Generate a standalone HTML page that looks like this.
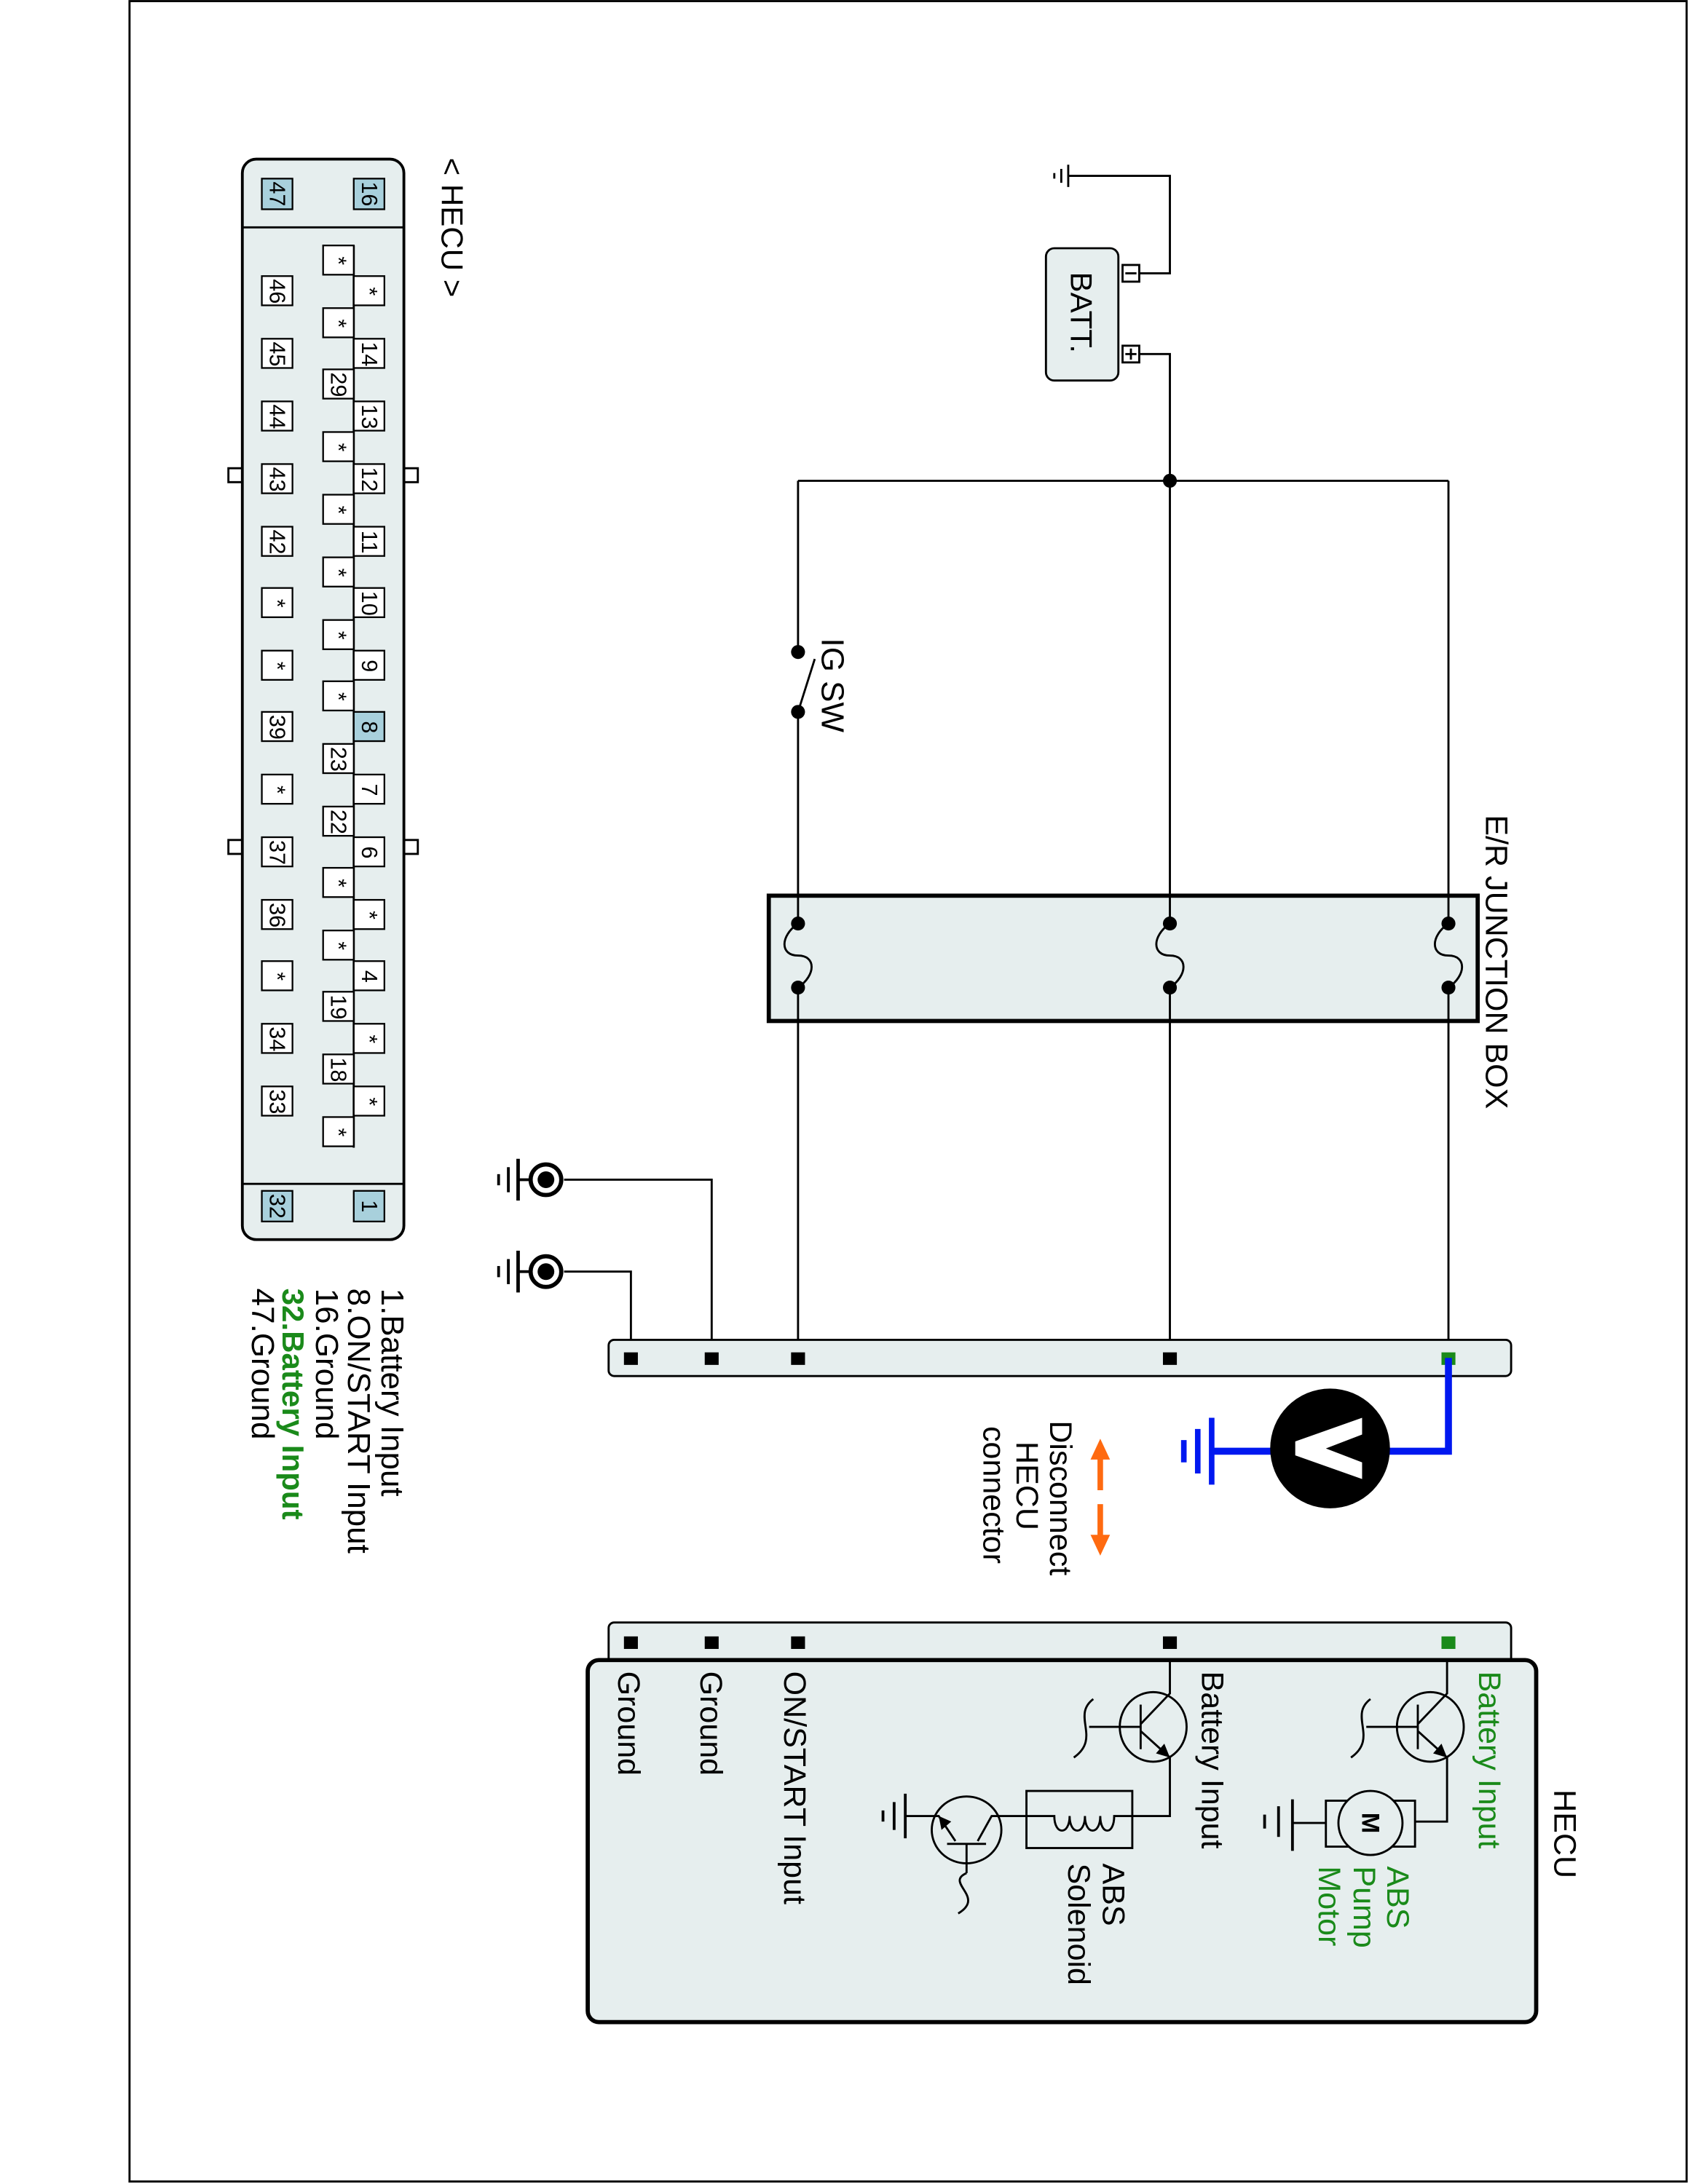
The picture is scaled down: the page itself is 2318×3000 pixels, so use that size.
<!DOCTYPE html>
<html><head><meta charset="utf-8"><style>
html,body{margin:0;padding:0;background:#fff}
svg{display:block}
text{font-family:"Liberation Sans",Arial,sans-serif}
</style></head><body>
<svg width="2318" height="3000" viewBox="0 0 1212 1568" xmlns="http://www.w3.org/2000/svg">
<rect x="93" y="0.5" width="1118" height="1566" fill="#fff" stroke="#000" stroke-width="1.5"/>

<g stroke="#000" stroke-width="1.5">
<rect x="164" y="336" width="10" height="10" fill="#fff"/>
<rect x="290" y="336" width="10" height="10" fill="#fff"/>
<rect x="164" y="603" width="10" height="10" fill="#fff"/>
<rect x="290" y="603" width="10" height="10" fill="#fff"/>
<rect x="174" y="114" width="116" height="776" rx="10" fill="#e6eeee" stroke-width="2"/>
<line x1="174" y1="163" x2="290" y2="163"/>
<line x1="174" y1="850" x2="290" y2="850"/>
<line x1="254" y1="176" x2="254" y2="824"/>
</g>
<g stroke="#000" stroke-width="1.2" font-size="16">
<rect x="188" y="128" width="22" height="22" fill="#a8d0dc"/><text transform="translate(199,139) rotate(90)" text-anchor="middle" dominant-baseline="central" stroke="none">47</text>
<rect x="254" y="128" width="22" height="22" fill="#a8d0dc"/><text transform="translate(265,139) rotate(90)" text-anchor="middle" dominant-baseline="central" stroke="none">16</text>
<rect x="188" y="855" width="22" height="22" fill="#a8d0dc"/><text transform="translate(199,866) rotate(90)" text-anchor="middle" dominant-baseline="central" stroke="none">32</text>
<rect x="254" y="855" width="22" height="22" fill="#a8d0dc"/><text transform="translate(265,866) rotate(90)" text-anchor="middle" dominant-baseline="central" stroke="none">1</text>

<rect x="254" y="198" width="22" height="21" fill="#fff"/><text transform="translate(265,209) rotate(90)" text-anchor="middle" dominant-baseline="central" stroke="none">*</text>
<rect x="254" y="243" width="22" height="21" fill="#fff"/><text transform="translate(265,254) rotate(90)" text-anchor="middle" dominant-baseline="central" stroke="none">14</text>
<rect x="254" y="288" width="22" height="21" fill="#fff"/><text transform="translate(265,299) rotate(90)" text-anchor="middle" dominant-baseline="central" stroke="none">13</text>
<rect x="254" y="333" width="22" height="21" fill="#fff"/><text transform="translate(265,344) rotate(90)" text-anchor="middle" dominant-baseline="central" stroke="none">12</text>
<rect x="254" y="378" width="22" height="21" fill="#fff"/><text transform="translate(265,389) rotate(90)" text-anchor="middle" dominant-baseline="central" stroke="none">11</text>
<rect x="254" y="422" width="22" height="21" fill="#fff"/><text transform="translate(265,433) rotate(90)" text-anchor="middle" dominant-baseline="central" stroke="none">10</text>
<rect x="254" y="467" width="22" height="21" fill="#fff"/><text transform="translate(265,478) rotate(90)" text-anchor="middle" dominant-baseline="central" stroke="none">9</text>
<rect x="254" y="511" width="22" height="21" fill="#a8d0dc"/><text transform="translate(265,522) rotate(90)" text-anchor="middle" dominant-baseline="central" stroke="none">8</text>
<rect x="254" y="556" width="22" height="21" fill="#fff"/><text transform="translate(265,567) rotate(90)" text-anchor="middle" dominant-baseline="central" stroke="none">7</text>
<rect x="254" y="601" width="22" height="21" fill="#fff"/><text transform="translate(265,612) rotate(90)" text-anchor="middle" dominant-baseline="central" stroke="none">6</text>
<rect x="254" y="646" width="22" height="21" fill="#fff"/><text transform="translate(265,657) rotate(90)" text-anchor="middle" dominant-baseline="central" stroke="none">*</text>
<rect x="254" y="690" width="22" height="21" fill="#fff"/><text transform="translate(265,701) rotate(90)" text-anchor="middle" dominant-baseline="central" stroke="none">4</text>
<rect x="254" y="735" width="22" height="21" fill="#fff"/><text transform="translate(265,746) rotate(90)" text-anchor="middle" dominant-baseline="central" stroke="none">*</text>
<rect x="254" y="780" width="22" height="21" fill="#fff"/><text transform="translate(265,791) rotate(90)" text-anchor="middle" dominant-baseline="central" stroke="none">*</text>

<rect x="232" y="176" width="22" height="21" fill="#fff"/><text transform="translate(243,187) rotate(90)" text-anchor="middle" dominant-baseline="central" stroke="none">*</text>
<rect x="232" y="221" width="22" height="21" fill="#fff"/><text transform="translate(243,232) rotate(90)" text-anchor="middle" dominant-baseline="central" stroke="none">*</text>
<rect x="232" y="265" width="22" height="21" fill="#fff"/><text transform="translate(243,276) rotate(90)" text-anchor="middle" dominant-baseline="central" stroke="none">29</text>
<rect x="232" y="310" width="22" height="21" fill="#fff"/><text transform="translate(243,321) rotate(90)" text-anchor="middle" dominant-baseline="central" stroke="none">*</text>
<rect x="232" y="355" width="22" height="21" fill="#fff"/><text transform="translate(243,366) rotate(90)" text-anchor="middle" dominant-baseline="central" stroke="none">*</text>
<rect x="232" y="400" width="22" height="21" fill="#fff"/><text transform="translate(243,411) rotate(90)" text-anchor="middle" dominant-baseline="central" stroke="none">*</text>
<rect x="232" y="445" width="22" height="21" fill="#fff"/><text transform="translate(243,456) rotate(90)" text-anchor="middle" dominant-baseline="central" stroke="none">*</text>
<rect x="232" y="489" width="22" height="21" fill="#fff"/><text transform="translate(243,500) rotate(90)" text-anchor="middle" dominant-baseline="central" stroke="none">*</text>
<rect x="232" y="534" width="22" height="21" fill="#fff"/><text transform="translate(243,545) rotate(90)" text-anchor="middle" dominant-baseline="central" stroke="none">23</text>
<rect x="232" y="579" width="22" height="21" fill="#fff"/><text transform="translate(243,590) rotate(90)" text-anchor="middle" dominant-baseline="central" stroke="none">22</text>
<rect x="232" y="623" width="22" height="21" fill="#fff"/><text transform="translate(243,634) rotate(90)" text-anchor="middle" dominant-baseline="central" stroke="none">*</text>
<rect x="232" y="668" width="22" height="21" fill="#fff"/><text transform="translate(243,679) rotate(90)" text-anchor="middle" dominant-baseline="central" stroke="none">*</text>
<rect x="232" y="712" width="22" height="21" fill="#fff"/><text transform="translate(243,723) rotate(90)" text-anchor="middle" dominant-baseline="central" stroke="none">19</text>
<rect x="232" y="757" width="22" height="21" fill="#fff"/><text transform="translate(243,768) rotate(90)" text-anchor="middle" dominant-baseline="central" stroke="none">18</text>
<rect x="232" y="802" width="22" height="21" fill="#fff"/><text transform="translate(243,813) rotate(90)" text-anchor="middle" dominant-baseline="central" stroke="none">*</text>

<rect x="188" y="198" width="22" height="21" fill="#fff"/><text transform="translate(199,209) rotate(90)" text-anchor="middle" dominant-baseline="central" stroke="none">46</text>
<rect x="188" y="243" width="22" height="21" fill="#fff"/><text transform="translate(199,254) rotate(90)" text-anchor="middle" dominant-baseline="central" stroke="none">45</text>
<rect x="188" y="288" width="22" height="21" fill="#fff"/><text transform="translate(199,299) rotate(90)" text-anchor="middle" dominant-baseline="central" stroke="none">44</text>
<rect x="188" y="333" width="22" height="21" fill="#fff"/><text transform="translate(199,344) rotate(90)" text-anchor="middle" dominant-baseline="central" stroke="none">43</text>
<rect x="188" y="378" width="22" height="21" fill="#fff"/><text transform="translate(199,389) rotate(90)" text-anchor="middle" dominant-baseline="central" stroke="none">42</text>
<rect x="188" y="422" width="22" height="21" fill="#fff"/><text transform="translate(199,433) rotate(90)" text-anchor="middle" dominant-baseline="central" stroke="none">*</text>
<rect x="188" y="467" width="22" height="21" fill="#fff"/><text transform="translate(199,478) rotate(90)" text-anchor="middle" dominant-baseline="central" stroke="none">*</text>
<rect x="188" y="511" width="22" height="21" fill="#fff"/><text transform="translate(199,522) rotate(90)" text-anchor="middle" dominant-baseline="central" stroke="none">39</text>
<rect x="188" y="556" width="22" height="21" fill="#fff"/><text transform="translate(199,567) rotate(90)" text-anchor="middle" dominant-baseline="central" stroke="none">*</text>
<rect x="188" y="601" width="22" height="21" fill="#fff"/><text transform="translate(199,612) rotate(90)" text-anchor="middle" dominant-baseline="central" stroke="none">37</text>
<rect x="188" y="646" width="22" height="21" fill="#fff"/><text transform="translate(199,657) rotate(90)" text-anchor="middle" dominant-baseline="central" stroke="none">36</text>
<rect x="188" y="690" width="22" height="21" fill="#fff"/><text transform="translate(199,701) rotate(90)" text-anchor="middle" dominant-baseline="central" stroke="none">*</text>
<rect x="188" y="735" width="22" height="21" fill="#fff"/><text transform="translate(199,746) rotate(90)" text-anchor="middle" dominant-baseline="central" stroke="none">34</text>
<rect x="188" y="780" width="22" height="21" fill="#fff"/><text transform="translate(199,791) rotate(90)" text-anchor="middle" dominant-baseline="central" stroke="none">33</text>
</g>

<text transform="translate(317,113) rotate(90)" font-size="22">&lt; HECU &gt;</text>

<g font-size="23">
<text transform="translate(274,925) rotate(90)">1.Battery Input</text>
<text transform="translate(250,925) rotate(90)">8.ON/START Input</text>
<text transform="translate(227,925) rotate(90)">16.Ground</text>
<text transform="translate(203,925) rotate(90)" fill="#1a8a1a" font-weight="bold" font-size="22">32.Battery Input</text>
<text transform="translate(181,925) rotate(90)">47.Ground</text>
</g>

<g stroke="#000" stroke-width="1.5" fill="none">
<polyline points="767,126 840,126 840,196 818,196"/>
<line x1="767" y1="118" x2="767" y2="134"/>
<line x1="762" y1="121" x2="762" y2="131"/>
<line x1="757" y1="124" x2="757" y2="128"/>
<rect x="751" y="178" width="52" height="95" rx="6" fill="#e6eeee"/>
<rect x="806" y="190" width="12" height="12" fill="#fff"/>
<rect x="806" y="248" width="12" height="12" fill="#fff"/>
<line x1="808" y1="196" x2="816" y2="196"/>
<line x1="808" y1="254" x2="816" y2="254"/><line x1="812" y1="250" x2="812" y2="258"/>
<polyline points="818,254 840,254 840,975"/>
<line x1="573" y1="345" x2="1040" y2="345"/>
<line x1="573" y1="345" x2="573" y2="468"/>
<line x1="573" y1="511" x2="573" y2="975"/>
<line x1="573" y1="511" x2="585" y2="473"/>
<line x1="1040" y1="345" x2="1040" y2="975"/>
<polyline points="405,847 511,847 511,975"/>
<polyline points="405,913 453,913 453,975"/>
</g>
<text transform="translate(769,195) rotate(90)" font-size="22">BATT.</text>
<circle cx="840" cy="345" r="5"/>
<circle cx="573" cy="468" r="5"/><circle cx="573" cy="511" r="5"/>
<text transform="translate(590,458) rotate(90)" font-size="23">IG SW</text>

<rect x="552" y="643" width="509" height="90" fill="#e6eeee" stroke="#000" stroke-width="3"/>
<g stroke="#000" stroke-width="1.5" fill="none">
<line x1="573" y1="643" x2="573" y2="733"/>
<line x1="840" y1="643" x2="840" y2="733"/>
<line x1="1040" y1="643" x2="1040" y2="733"/>
</g>
<g fill="#e6eeee" stroke="none">
<rect x="560" y="665" width="26" height="42"/>
<rect x="827" y="665" width="26" height="42"/>
<rect x="1027" y="665" width="26" height="42"/>
</g>
<g stroke="#000" stroke-width="1.5" fill="none">
<path d="M573,663 C560,672 560,686 573,686 C586,686 586,700 573,709"/>
<path d="M840,663 C827,672 827,686 840,686 C853,686 853,700 840,709"/>
<path d="M1040,663 C1027,672 1027,686 1040,686 C1053,686 1053,700 1040,709"/>
</g>
<g><circle cx="573" cy="663" r="5"/><circle cx="573" cy="709" r="5"/>
<circle cx="840" cy="663" r="5"/><circle cx="840" cy="709" r="5"/>
<circle cx="1040" cy="663" r="5"/><circle cx="1040" cy="709" r="5"/></g>
<text transform="translate(1067,585) rotate(90)" font-size="22.5">E/R JUNCTION BOX</text>

<g stroke="#000" fill="none">
<circle cx="392" cy="847" r="11" stroke-width="3" fill="#fff"/>
<circle cx="392" cy="913" r="11" stroke-width="3" fill="#fff"/>
<line x1="380" y1="847" x2="372" y2="847" stroke-width="2"/>
<line x1="380" y1="913" x2="372" y2="913" stroke-width="2"/>
<line x1="372" y1="832" x2="372" y2="862" stroke-width="2.5"/>
<line x1="365" y1="838" x2="365" y2="856" stroke-width="2"/>
<line x1="358" y1="843" x2="358" y2="851" stroke-width="2"/>
<line x1="372" y1="898" x2="372" y2="928" stroke-width="2.5"/>
<line x1="365" y1="904" x2="365" y2="922" stroke-width="2"/>
<line x1="358" y1="909" x2="358" y2="917" stroke-width="2"/>
</g>
<circle cx="392" cy="847" r="6"/><circle cx="392" cy="913" r="6"/>

<rect x="437" y="962" width="648" height="26" rx="4" fill="#e6eeee" stroke="#000" stroke-width="1.5"/>
<rect x="448" y="971" width="10" height="9"/><rect x="506" y="971" width="10" height="9"/>
<rect x="568" y="971" width="10" height="9"/><rect x="835" y="971" width="10" height="9"/>
<rect x="1035" y="971" width="10" height="9" fill="#1a8a1a"/>

<polyline points="1040,975 1040,1042 870,1042" fill="none" stroke="#0018f0" stroke-width="5"/>
<line x1="870" y1="1018" x2="870" y2="1066" stroke="#0018f0" stroke-width="4"/>
<line x1="860" y1="1026" x2="860" y2="1058" stroke="#0018f0" stroke-width="4"/>
<line x1="850" y1="1034" x2="850" y2="1050" stroke="#0018f0" stroke-width="4"/>
<ellipse cx="955" cy="1040" rx="43" ry="43"/>
<polygon points="978,1018 978,1030 952,1040 978,1050 978,1062 930,1045 930,1035" fill="#fff"/>

<g fill="#ff6a10" stroke="#ff6a10">
<line x1="790" y1="1044" x2="790" y2="1070" stroke-width="4"/>
<polygon points="790,1033 783,1048 797,1048" stroke="none"/>
<line x1="790" y1="1080" x2="790" y2="1106" stroke-width="4"/>
<polygon points="790,1117 783,1102 797,1102" stroke="none"/>
</g>
<g font-size="22.5">
<text transform="translate(754,1020) rotate(90)">Disconnect</text>
<text transform="translate(730,1035) rotate(90)">HECU</text>
<text transform="translate(706,1024) rotate(90)">connector</text>
</g>

<rect x="437" y="1165" width="648" height="40" rx="4" fill="#e6eeee" stroke="#000" stroke-width="1.5"/>
<rect x="422" y="1192" width="681" height="260" rx="8" fill="#e6eeee" stroke="#000" stroke-width="3"/>
<rect x="448" y="1175" width="10" height="9"/><rect x="506" y="1175" width="10" height="9"/>
<rect x="568" y="1175" width="10" height="9"/><rect x="835" y="1175" width="10" height="9"/>
<rect x="1035" y="1175" width="10" height="9" fill="#1a8a1a"/>
<text transform="translate(1116,1285) rotate(90)" font-size="22.5">HECU</text>

<g font-size="22.5">
<text transform="translate(1062,1200) rotate(90)" fill="#1a8a1a">Battery Input</text>
<text transform="translate(863,1200) rotate(90)">Battery Input</text>
<text transform="translate(563,1200) rotate(90)">ON/START Input</text>
<text transform="translate(503,1200) rotate(90)">Ground</text>
<text transform="translate(444,1200) rotate(90)">Ground</text>
<text transform="translate(996,1340) rotate(90)" fill="#1a8a1a">ABS</text>
<text transform="translate(972,1340) rotate(90)" fill="#1a8a1a">Pump</text>
<text transform="translate(947,1340) rotate(90)" fill="#1a8a1a">Motor</text>
<text transform="translate(792,1338) rotate(90)">ABS</text>
<text transform="translate(767,1338) rotate(90)">Solenoid</text>
</g>

<g stroke="#000" stroke-width="1.5" fill="none">
<ellipse cx="1027" cy="1240" rx="24" ry="25"/>
<polyline points="1039,1192 1039,1216 1018,1238"/>
<line x1="1018" y1="1224" x2="1018" y2="1256"/>
<polyline points="1018,1243 1039,1262 1039,1308 1016,1308"/>
<line x1="1018" y1="1240" x2="981" y2="1240"/>
<path d="M984,1220 C968,1232 990,1248 970,1262"/>
<rect x="952" y="1293" width="64" height="33"/>
<circle cx="984" cy="1309" r="23" fill="#e6eeee"/>
<line x1="952" y1="1309" x2="928" y2="1309"/>
<line x1="928" y1="1292" x2="928" y2="1329" stroke-width="2"/>
<line x1="918" y1="1297" x2="918" y2="1319" stroke-width="2"/>
<line x1="908" y1="1303" x2="908" y2="1313" stroke-width="2"/>
<ellipse cx="828" cy="1240" rx="24" ry="25"/>
<polyline points="840,1192 840,1216 819,1238"/>
<line x1="819" y1="1224" x2="819" y2="1256"/>
<polyline points="819,1243 840,1262 840,1304 813,1304"/>
<line x1="819" y1="1240" x2="782" y2="1240"/>
<path d="M785,1220 C769,1232 791,1248 771,1262"/>
<rect x="737" y="1286" width="76" height="41"/>
<path d="M813,1304 L800,1304 C800,1318 790,1318 790,1304 C790,1318 779,1318 779,1304 C779,1318 768,1318 768,1304 C768,1318 757,1318 757,1304 L737,1304"/>
<ellipse cx="694" cy="1314" rx="25" ry="24"/>
<polyline points="737,1304 712,1304 702,1322"/>
<line x1="680" y1="1324" x2="708" y2="1324"/>
<polyline points="686,1322 674,1304 650,1304"/>
<line x1="694" y1="1324" x2="694" y2="1345"/>
<path d="M694,1345 C678,1352 708,1362 688,1374"/>
<line x1="650" y1="1288" x2="650" y2="1320" stroke-width="2"/>
<line x1="642" y1="1294" x2="642" y2="1314" stroke-width="2"/>
<line x1="634" y1="1300" x2="634" y2="1308" stroke-width="2"/>
</g>
<text transform="translate(978,1309) rotate(90)" font-size="18" font-weight="bold" text-anchor="middle">M</text>
<polygon points="1039,1262 1029,1259 1035,1252"/>
<polygon points="840,1262 830,1259 836,1252"/>
<polygon points="674,1304 676,1314 683,1308"/>
</svg>
</body></html>
